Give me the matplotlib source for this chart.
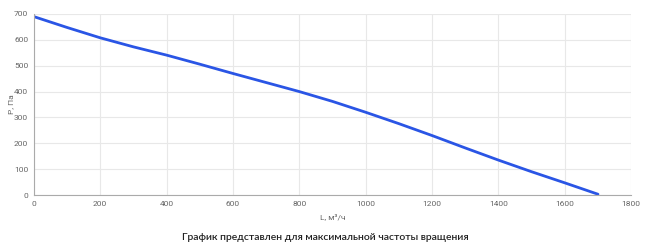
import matplotlib
matplotlib.use("Agg")
import matplotlib.pyplot as plt

flow = [0, 100, 200, 300, 400, 500, 600, 700, 800, 900, 1000, 1100, 1200, 1300, 1400, 1500, 1600, 1700]
pressure = [690, 648, 608, 573, 541, 506, 470, 435, 400, 362, 320, 276, 230, 182, 135, 90, 47, 3]
xticks = [0, 200, 400, 600, 800, 1000, 1200, 1400, 1600, 1800]
yticks = [0, 100, 200, 300, 400, 500, 600, 700]

plt.rcParams['font.family'] = ['Roboto', 'DejaVu Sans']
fig = plt.figure(figsize=(6.5, 2.5), dpi=100)
ax = fig.add_axes([0.052, 0.22, 0.919, 0.724])
ax.plot(flow, pressure, color='#2a55e5', lw=2.0, solid_capstyle='round')
ax.set_xlim(0, 1800)
ax.set_ylim(0, 700)
ax.set_xticks(xticks)
ax.set_yticks(yticks)
ax.grid(True, color='#e8e8e8', lw=0.8)
for s in ['top', 'right']:
    ax.spines[s].set_visible(False)
for s in ['left', 'bottom']:
    ax.spines[s].set_color('#aaaaaa')
    ax.spines[s].set_linewidth(0.8)
ax.tick_params(colors='#666666', labelsize=6, length=0, pad=4)
ax.set_xlabel('L, м³/ч', fontsize=6, color='#666666', labelpad=5)
ax.set_ylabel('P, Па', fontsize=6, color='#666666', labelpad=0)
fig.text(0.5, 0.052, 'График представлен для максимальной частоты вращения',
         ha='center', va='center', fontsize=7.5, color='#222222', fontweight='semibold',
         family=['Lato', 'DejaVu Sans'])
fig.savefig('out.png', dpi=100)
